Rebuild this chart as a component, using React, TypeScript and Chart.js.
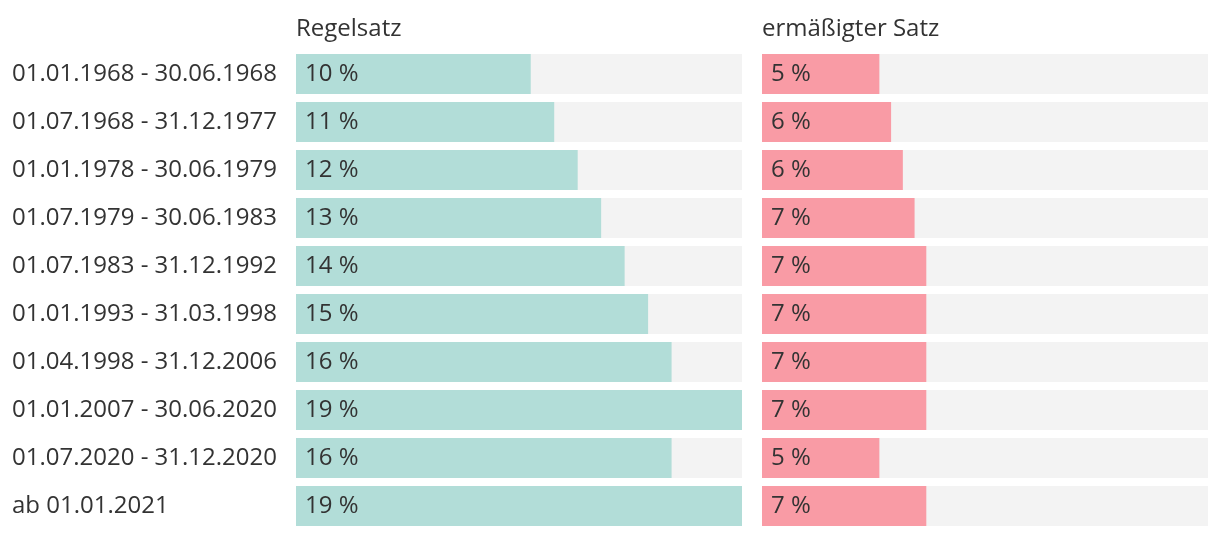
import React, { useEffect, useRef } from "react";
import { Chart, registerables } from "chart.js";

Chart.register(...registerables);

const periods = [
  "01.01.1968 - 30.06.1968",
  "01.07.1968 - 31.12.1977",
  "01.01.1978 - 30.06.1979",
  "01.07.1979 - 30.06.1983",
  "01.07.1983 - 31.12.1992",
  "01.01.1993 - 31.03.1998",
  "01.04.1998 - 31.12.2006",
  "01.01.2007 - 30.06.2020",
  "01.07.2020 - 31.12.2020",
  "ab 01.01.2021",
];
const standardRate = [10, 11, 12, 13, 14, 15, 16, 19, 16, 19];
const reducedRate = [5, 5.5, 6, 6.5, 7, 7, 7, 7, 5, 7];
const panelTitles = ["Regelsatz", "ermäßigter Satz"];

const PANEL_MAX = 19;
const PANEL_GAP = 0.852;
const RIGHT_START = PANEL_MAX + PANEL_GAP;

const FONT = "'Open Sans', sans-serif";
const TEXT_COLOR = "#333333";
const FONT_SIZE = 24;

export default function App() {
  const canvasRef = useRef<HTMLCanvasElement | null>(null);

  useEffect(() => {
    document.body.style.margin = "0";
    const canvas = canvasRef.current;
    if (!canvas) return;

    const labelPlugin = {
      id: "splitLabels",
      afterDatasetsDraw(chart: any) {
        const ctx = chart.ctx;
        const xScale = chart.scales.x;
        const top = chart.chartArea.top;
        ctx.save();
        ctx.fillStyle = TEXT_COLOR;
        ctx.font = `${FONT_SIZE}px ${FONT}`;
        ctx.textAlign = "left";
        ctx.textBaseline = "middle";
        [0, 1].forEach((di) => {
          const values = di === 0 ? standardRate : reducedRate;
          const meta = chart.getDatasetMeta(di);
          meta.data.forEach((el: any, i: number) => {
            const startX = Math.min(el.base, el.x);
            ctx.fillText(`${Math.round(values[i])} %`, startX + 9, el.y);
          });
        });
        ctx.textBaseline = "alphabetic";
        ctx.fillText(panelTitles[0], xScale.getPixelForValue(0), top - 14);
        ctx.fillText(panelTitles[1], xScale.getPixelForValue(RIGHT_START), top - 14);
        ctx.restore();
      },
    };

    const common = {
      grouped: false,
      borderWidth: 0,
      borderRadius: 0,
      barPercentage: 40 / 48,
      categoryPercentage: 1,
    };

    const chart = new Chart(canvas, {
      type: "bar",
      data: {
        labels: periods,
        datasets: [
          {
            ...common,
            label: panelTitles[0],
            data: standardRate.map((v) => [0, v]),
            backgroundColor: "#b2ddd8",
          },
          {
            ...common,
            label: panelTitles[1],
            data: reducedRate.map((v) => [RIGHT_START, RIGHT_START + v]),
            backgroundColor: "#f99ba5",
          },
          {
            ...common,
            label: "bg1",
            data: periods.map(() => [0, PANEL_MAX]),
            backgroundColor: "#f3f3f3",
          },
          {
            ...common,
            label: "bg2",
            data: periods.map(() => [RIGHT_START, RIGHT_START + PANEL_MAX]),
            backgroundColor: "#f3f3f3",
          },
        ] as any,
      },
      options: {
        indexAxis: "y",
        animation: false,
        responsive: false,
        events: [],
        layout: { padding: { left: 12, right: 12, top: 50, bottom: 6 } },
        plugins: {
          legend: { display: false },
          tooltip: { enabled: false },
          title: { display: false },
        },
        scales: {
          x: {
            type: "linear",
            display: false,
            min: 0,
            max: RIGHT_START + PANEL_MAX,
          },
          y: {
            type: "category",
            grid: { display: false },
            border: { display: false },
            ticks: {
              crossAlign: "far",
              color: TEXT_COLOR,
              font: { family: FONT, size: FONT_SIZE },
              padding: 0,
            },
            afterFit(scale: any) {
              scale.width = 284;
              scale.paddingTop = 0;
              scale.paddingBottom = 0;
            },
          },
        },
      } as any,
      plugins: [labelPlugin],
    });

    return () => chart.destroy();
  }, []);

  return <canvas ref={canvasRef} width={1220} height={536} style={{ display: "block" }} />;
}
